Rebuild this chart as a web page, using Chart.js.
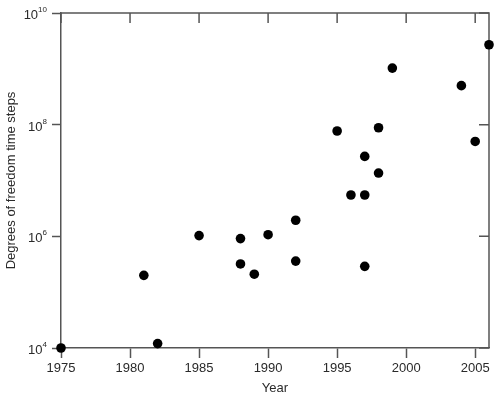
<!DOCTYPE html>
<html>
<head>
<meta charset="utf-8">
<script src="https://cdn.jsdelivr.net/npm/chart.js@4/dist/chart.umd.min.js"></script>
<style>
  html, body { margin: 0; padding: 0; background: #ffffff; }
  #wrap { width: 500px; height: 397px; }
</style>
</head>
<body>
<div id="wrap"><canvas id="c" width="500" height="397"></canvas></div>
<script>
// ---- data ----
const years = [1975, 1981, 1982, 1985, 1988, 1988, 1989, 1990, 1992, 1992, 1995, 1996, 1997, 1997, 1997, 1998, 1998, 1999, 2004, 2005, 2006];
const dofSteps = [1e4, 2.0e5, 1.2e4, 1.03e6, 9.1e5, 3.2e5, 2.1e5, 1.07e6, 1.94e6, 3.6e5, 7.7e7, 5.5e6, 2.7e7, 5.5e6, 2.9e5, 8.8e7, 1.36e7, 1.03e9, 5.0e8, 5.0e7, 2.7e9];
const xTicks = [1975, 1980, 1985, 1990, 1995, 2000, 2005];
const yTicks = [1e4, 1e6, 1e8, 1e10];
const xTitle = 'Year';
const yTitle = 'Degrees of freedom time steps';

const axisColor = '#555555';
const textColor = '#2a2a2a';
const fontFamily = '"Liberation Sans", Arial, Helvetica, sans-serif';

const points = years.map((y, i) => ({ x: y, y: dofSteps[i] }));

const framePlugin = {
  id: 'frame',
  beforeDatasetsDraw(chart) {
    const { ctx, chartArea: a, scales } = chart;
    ctx.save();
    ctx.strokeStyle = axisColor;
    ctx.lineWidth = 1.5;
    // top and right frame lines
    ctx.beginPath();
    ctx.moveTo(a.left, a.top);
    ctx.lineTo(a.right, a.top);
    ctx.lineTo(a.right, a.bottom);
    ctx.stroke();
    // inward mirrored ticks
    ctx.beginPath();
    scales.x.ticks.forEach(t => {
      const px = scales.x.getPixelForValue(t.value);
      ctx.moveTo(px, a.top);
      ctx.lineTo(px, a.top + 10);
    });
    scales.y.ticks.forEach(t => {
      const py = scales.y.getPixelForValue(t.value);
      ctx.moveTo(a.right, py);
      ctx.lineTo(a.right - 10, py);
    });
    ctx.stroke();
    ctx.restore();
  },
  afterDraw(chart) {
    // y tick labels as 10 with superscript exponent
    const { ctx, scales } = chart;
    const ys = scales.y;
    ctx.save();
    ctx.fillStyle = textColor;
    ys.ticks.forEach(t => {
      const py = ys.getPixelForValue(t.value);
      const exp = String(Math.round(Math.log10(t.value)));
      ctx.font = '8px ' + fontFamily;
      const ew = ctx.measureText(exp).width;
      const right = ys.right - 14;
      ctx.textAlign = 'right';
      ctx.textBaseline = 'alphabetic';
      ctx.fillText(exp, right, py - 1);
      ctx.font = '13px ' + fontFamily;
      ctx.fillText('10', right - ew, py + 6);
    });
    ctx.restore();
  }
};

new Chart(document.getElementById('c'), {
  type: 'scatter',
  data: {
    datasets: [{
      data: points,
      backgroundColor: '#000000',
      borderColor: '#000000',
      pointRadius: 4.8,
      pointHoverRadius: 4.8,
      borderWidth: 0,
      clip: false
    }]
  },
  plugins: [framePlugin],
  options: {
    responsive: false,
    animation: false,
    devicePixelRatio: 1,
    layout: { padding: { top: 13, right: 11, left: 0, bottom: 0 } },
    plugins: { legend: { display: false }, tooltip: { enabled: false } },
    scales: {
      x: {
        type: 'linear',
        min: 1975,
        max: 2006,
        afterBuildTicks(scale) { scale.ticks = xTicks.map(v => ({ value: v })); },
        afterFit(scale) { scale.height = 49; scale.paddingLeft = 0; scale.paddingRight = 0; },
        grid: { drawOnChartArea: false, drawTicks: true, tickLength: 10, tickColor: axisColor, tickWidth: 1.5 },
        border: { display: true, color: axisColor, width: 1.5 },
        ticks: { color: textColor, padding: 3, font: { family: fontFamily, size: 13 }, maxRotation: 0, callback: v => String(v) },
        title: { display: true, text: xTitle, color: textColor, font: { family: fontFamily, size: 13 }, padding: { top: 0, bottom: 1 } }
      },
      y: {
        type: 'logarithmic',
        min: 1e4,
        max: 1e10,
        afterBuildTicks(scale) { scale.ticks = yTicks.map(v => ({ value: v })); },
        afterFit(scale) { scale.width = 61; scale.paddingTop = 0; scale.paddingBottom = 0; },
        grid: { drawOnChartArea: false, drawTicks: true, tickLength: 9, tickColor: axisColor, tickWidth: 1.5 },
        border: { display: true, color: axisColor, width: 1.5 },
        ticks: { display: false },
        title: { display: true, text: yTitle, color: textColor, font: { family: fontFamily, size: 13 }, padding: { top: 4, bottom: 0 } }
      }
    }
  }
});
</script>
</body>
</html>
